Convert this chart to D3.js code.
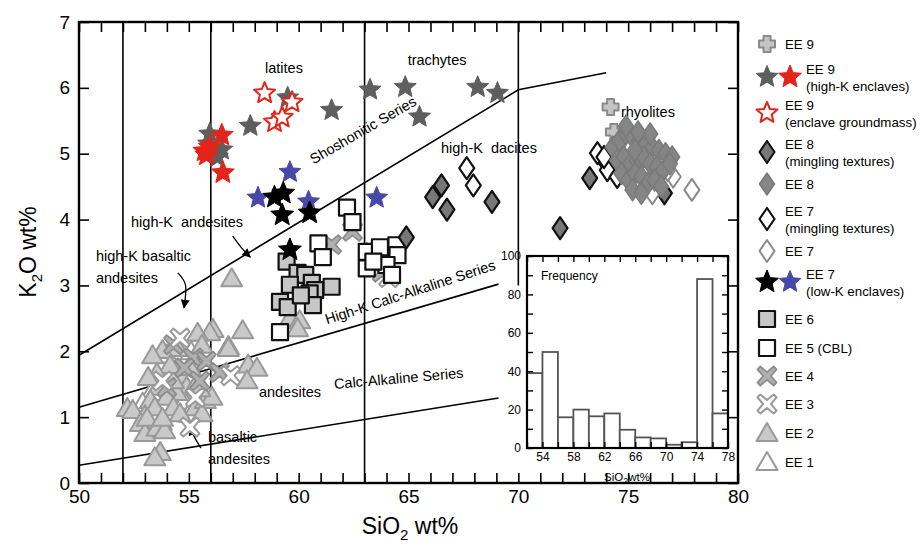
<!DOCTYPE html>
<html><head><meta charset="utf-8">
<script src="https://cdn.jsdelivr.net/npm/d3@7"></script>
<style>body{margin:0;background:#fff}text{font-family:"Liberation Sans",Arial,Helvetica,sans-serif;white-space:pre}</style>
</head><body><svg id="c" width="920" height="547"></svg>
<script>
// ---------- data (SiO2 wt%, K2O wt%) ----------
const ee9Cross = [[74.2,5.71],[74.35,5.33],[74.5,5.13],[75.9,4.98]];
const ee9HighKGray = [[59.5,5.85],[57.8,5.42],[61.5,5.66],[63.25,5.97],[64.85,6.01],[65.5,5.56],[68.15,6.01],[69.05,5.92],[55.95,5.30],[56.5,5.06],[56.3,4.95],[55.9,5.15]];
const ee9HighKRed = [[56.5,5.28],[55.95,5.10],[55.8,4.98],[56.55,4.71],[55.7,5.04]];
const ee9Groundmass = [[58.45,5.92],[59.7,5.78],[58.9,5.48],[59.25,5.55]];
const ee8Mingling = [[66.1,4.34],[66.5,4.52],[66.75,4.15],[68.8,4.27],[71.9,3.87],[73.25,4.63],[76.65,4.40],[64.9,3.73]];
const ee8 = [[74.3,5.10],[74.6,5.20],[74.9,5.30],[75.2,5.25],[75.5,5.20],[75.8,5.15],[76.1,5.10],[76.4,5.05],[76.7,5.00],[77.0,4.95],[74.5,4.90],[74.8,4.95],[75.1,4.85],[75.4,4.90],[75.7,4.95],[76.0,4.85],[76.3,4.80],[76.6,4.75],[76.9,4.85],[74.7,4.70],[75.0,4.60],[75.3,4.70],[75.6,4.65],[75.9,4.55],[76.2,4.60],[76.5,4.50],[75.2,4.45],[75.6,4.40],[74.9,5.42],[75.3,5.05],[76.0,5.30],[75.45,5.33]];
const ee7Mingling = [[67.65,4.78],[67.95,4.52],[73.6,5.01],[74.0,4.86],[74.05,4.75],[74.5,4.65],[73.9,4.95]];
const ee7 = [[76.1,4.40],[77.05,4.65],[77.9,4.45],[76.8,4.75]];
const ee7LowKBlack = [[58.9,4.34],[59.3,4.40],[59.25,4.07],[60.5,4.10],[59.6,3.54]];
const ee7LowKBlue = [[58.15,4.33],[59.6,4.72],[60.45,4.27],[63.55,4.33]];
const ee6 = [[59.45,3.36],[59.95,3.19],[60.3,3.16],[59.6,3.01],[60.6,3.04],[60.75,2.93],[60.5,2.88],[61.5,2.98],[59.15,2.75],[59.5,2.67],[60.65,2.70],[60.1,2.85]];
const ee5 = [[62.2,4.18],[62.45,3.96],[60.9,3.64],[61.1,3.43],[59.15,2.29],[63.1,3.51],[63.7,3.58],[64.45,3.61],[64.5,3.46],[63.1,3.26],[64.0,3.31],[64.25,3.16],[63.4,3.36]];
const ee4 = [[61.5,3.62],[62.45,3.82],[63.4,3.50],[63.8,3.20],[54.3,2.10],[55.2,1.90],[55.8,1.85],[56.4,1.68],[54.8,1.75],[55.5,1.55],[54.0,1.45]];
const ee3 = [[63.6,3.35],[64.1,3.12],[63.3,3.45],[56.9,1.63],[55.05,0.85],[54.6,2.20],[53.8,1.55],[55.3,1.30]];
const ee2 = [[56.95,3.11],[56.1,2.34],[56.8,2.08],[57.7,1.80],[59.6,2.50],[60.05,2.47],[59.95,2.35],[55.95,2.29],[57.45,2.32],[56.8,2.05],[58.1,1.75],[57.65,1.56],[55.4,2.28],[55.6,2.10],[54.5,2.05],[53.8,2.02],[53.35,1.94],[54.6,1.64],[54.9,1.46],[53.6,1.46],[53.25,1.26],[54.45,1.38],[54.0,1.31],[52.2,1.14],[52.45,1.11],[53.0,1.03],[53.45,1.15],[54.3,1.15],[55.3,1.15],[55.75,1.26],[55.3,1.49],[56.05,1.31],[52.8,0.91],[53.0,0.76],[53.55,0.84],[53.1,0.99],[53.9,0.80],[53.7,0.47],[53.45,0.39],[54.3,1.56],[55.05,1.76],[54.15,1.79],[53.55,1.67],[53.15,1.61],[55.5,1.44],[55.6,1.06],[54.6,1.06],[53.8,0.99]];
const ee1 = [[54.2,1.62],[53.3,1.38],[54.8,1.25],[53.75,0.93],[55.1,2.00],[52.9,1.22],[54.0,1.95],[55.0,1.05]];

// classification lines
const shoshoniticLine = [[50,1.94],[70,5.97],[74,6.23]];
const highKLine = [[50,1.15],[69.1,3.02]];
const calcAlkLine = [[50,0.27],[69.1,1.29]];
const dividers = [[52,0,7],[56,0,7],[63,0,7],[70,3.0,7]];

// histogram (inset)
const binStarts = [52,54,56,58,60,62,64,66,68,70,72,74,76];
const frequency = [39,50,16,20,16.5,18,9.5,5.5,5,1.7,3,88,18];
const insetXTicks = [54,58,62,66,70,74,78];
const insetYTicks = [0,20,40,60,80,100];

const xTicks = [50,55,60,65,70,75,80];
const yTicks = [0,1,2,3,4,5,6,7];

// ---------- drawing ----------
const svg = d3.select("#c");
const x = d3.scaleLinear().domain([50,80]).range([79,738]);
const y = d3.scaleLinear().domain([0,7]).range([483,22]);

// dividers
svg.append("g").selectAll("line").data(dividers).join("line")
  .attr("x1",d=>x(d[0])).attr("x2",d=>x(d[0])).attr("y1",d=>y(d[1])).attr("y2",d=>y(d[2]))
  .attr("stroke","#000").attr("stroke-width",1.6);

const line = d3.line().x(d=>x(d[0])).y(d=>y(d[1]));
[shoshoniticLine, highKLine, calcAlkLine].forEach(L=>{
  svg.append("path").attr("d",line(L)).attr("fill","none").attr("stroke","#000").attr("stroke-width",1.6);
});

// axes
const gx = svg.append("g").attr("transform",`translate(0,${y(0)})`)
  .call(d3.axisBottom(x).tickValues(d3.range(50,81,1)).tickSize(-10).tickPadding(7)
    .tickFormat(d=> xTicks.includes(d)? d : ""));
const gxt = svg.append("g").attr("transform",`translate(0,${y(7)})`)
  .call(d3.axisTop(x).tickValues(d3.range(50,81,1)).tickSize(-10).tickFormat(""));
const gy = svg.append("g").attr("transform",`translate(${x(50)},0)`)
  .call(d3.axisLeft(y).tickValues(yTicks).tickSize(-10).tickPadding(9).tickFormat(d3.format("d")));
const gyr = svg.append("g").attr("transform",`translate(${x(80)},0)`)
  .call(d3.axisRight(y).tickValues(yTicks).tickSize(-10).tickFormat(""));
[gx,gxt,gy,gyr].forEach(g=>{
  g.select(".domain").remove();
  g.selectAll(".tick line").attr("stroke","#000").attr("stroke-width",1.6);
  g.selectAll("text").attr("font-size",19).attr("fill","#000").attr("font-family","Liberation Sans, Arial, sans-serif");
});
svg.append("rect").attr("x",x(50)).attr("y",y(7)).attr("width",x(80)-x(50)).attr("height",y(0)-y(7))
  .attr("fill","none").attr("stroke","#000").attr("stroke-width",2.4);

// axis titles
const xt = svg.append("text").attr("x",410).attr("y",534).attr("text-anchor","middle").attr("font-size",23);
xt.append("tspan").text("SiO");
xt.append("tspan").attr("font-size",15).attr("dy",6).text("2");
xt.append("tspan").attr("dy",-6).text(" wt%");
const yt = svg.append("text").attr("transform","translate(36,252) rotate(-90)").attr("text-anchor","middle").attr("font-size",23);
yt.append("tspan").text("K");
yt.append("tspan").attr("font-size",15).attr("dy",6).text("2");
yt.append("tspan").attr("dy",-6).text("O wt%");

// annotations
function label(t, sx, k, anchor, rot){
  const e = svg.append("text").attr("font-size",14.5).attr("text-anchor",anchor||"start").text(t);
  if(rot){ e.attr("transform",`translate(${x(sx)},${y(k)}) rotate(${rot})`).attr("dy","0.35em"); }
  else { e.attr("x",x(sx)).attr("y",y(k)); }
}
label("latites",59.33,6.225,"middle");
label("trachytes",66.3,6.35,"middle");
label("rhyolites",75.9,5.56,"middle");
label("high-K  dacites",66.48,5.01);
label("high-K  andesites",52.37,3.89);
label("high-K basaltic",50.77,3.37);
label("andesites",50.77,3.04);
label("basaltic",55.87,0.62);
label("andesites",55.87,0.29);
label("andesites",58.19,1.31);
label("Calc-Alkaline Series",64.55,1.59,"middle",-5);
label("Shoshonitic Series",62.93,5.36,"middle",-30);
label("High-K Calc-Alkaline Series",65.07,2.9,"middle",-18);

// arrows
svg.append("defs").append("marker").attr("id","ah").attr("viewBox","0 0 10 10").attr("refX",9).attr("refY",5)
  .attr("markerWidth",9).attr("markerHeight",9).attr("orient","auto-start-reverse").attr("markerUnits","userSpaceOnUse")
  .append("path").attr("d","M0,0L10,5L0,10z").attr("fill","#000");
const arrows = [
  [[57.0,3.75],[57.45,3.55],[57.8,3.43]],
  [[54.5,3.19],[54.85,3.0],[54.78,2.66]],
  [[55.55,0.53],[55.25,0.7],[55.05,0.85]]
];
arrows.forEach(a=>{
  svg.append("path").attr("d",d3.line().curve(d3.curveNatural).x(d=>x(d[0])).y(d=>y(d[1]))(a))
    .attr("fill","none").attr("stroke","#000").attr("stroke-width",1.3).attr("marker-end","url(#ah)");
});

// symbol generators
function starPath(R){
  const r=R*0.45, p=[];
  for(let i=0;i<10;i++){const a=-Math.PI/2+i*Math.PI/5, rr=i%2?r:R; p.push([rr*Math.cos(a),rr*Math.sin(a)]);}
  return "M"+p.map(q=>q.join(",")).join("L")+"Z";
}
const diamondPath = "M0,-11L7.5,0L0,11L-7.5,0Z";
const squarePath = "M-8,-8H8V8H-8Z";
const triPath = "M0,-10L10.5,8L-10.5,8Z";
function xPath(){const a=2.8,L=9.5; return `M${-L+a},${-L}L0,${-a*1.4}L${L-a},${-L}L${L},${-L+a}L${a*1.4},0L${L},${L-a}L${L-a},${L}L0,${a*1.4}L${-L+a},${L}L${-L},${L-a}L${-a*1.4},0L${-L},${-L+a}Z`;}
const crossPath = "M-3.5,-8H3.5V-3.5H8V3.5H3.5V8H-3.5V3.5H-8V-3.5H-3.5Z";

const styles = {
  ee1:{d:triPath,fill:"#fff",stroke:"#999",sw:2},
  ee2:{d:triPath,fill:"#c9c9c9",stroke:"#999",sw:2},
  ee3:{d:xPath(),fill:"#fff",stroke:"#9a9a9a",sw:2},
  ee4:{d:xPath(),fill:"#b0b0b0",stroke:"#8c8c8c",sw:1.8},
  ee5:{d:squarePath,fill:"#fff",stroke:"#111",sw:2.2},
  ee6:{d:squarePath,fill:"#c6c6c6",stroke:"#111",sw:2.2},
  lkBlack:{d:starPath(12),fill:"#000",stroke:"#000",sw:1},
  lkBlue:{d:starPath(11.5),fill:"#4848aa",stroke:"#4848aa",sw:1},
  ee7:{d:diamondPath,fill:"#fff",stroke:"#8a8a8a",sw:2},
  ee7m:{d:diamondPath,fill:"#fff",stroke:"#111",sw:2.2},
  ee8m:{d:diamondPath,fill:"#777",stroke:"#111",sw:2.2},
  ee8:{d:diamondPath,fill:"#858585",stroke:"#7a7a7a",sw:1.5},
  hkGray:{d:starPath(11.5),fill:"#5e5e5e",stroke:"#5e5e5e",sw:1},
  hkRed:{d:starPath(12),fill:"#e3241b",stroke:"#e3241b",sw:1},
  gm:{d:starPath(11),fill:"#fff",stroke:"#e3241b",sw:2},
  ee9:{d:crossPath,fill:"#c4c4c4",stroke:"#8a8a8a",sw:2}
};
const layers = [
  [ee1,"ee1"],[ee2,"ee2"],[ee4,"ee4"],[ee3,"ee3"],[ee6,"ee6"],[ee5,"ee5"],
  [ee7LowKBlue,"lkBlue"],[ee7LowKBlack,"lkBlack"],[ee9HighKGray,"hkGray"],[ee9HighKRed,"hkRed"],[ee9Groundmass,"gm"],
  [ee8Mingling,"ee8m"],[ee7Mingling,"ee7m"],[ee9Cross,"ee9"],[ee7,"ee7"],[ee8,"ee8"]
];
layers.forEach(([data,key])=>{
  const s=styles[key];
  svg.append("g").selectAll("path").data(data).join("path")
    .attr("d",s.d).attr("transform",d=>`translate(${x(d[0])},${y(d[1])})`)
    .attr("fill",s.fill).attr("stroke",s.stroke).attr("stroke-width",s.sw).attr("stroke-linejoin","round");
});

// ---------- inset histogram ----------
const ix = d3.scaleLinear().domain([52,78]).range([527,728]);
const iy = d3.scaleLinear().domain([0,100]).range([448,256]);
const ig = svg.append("g");
ig.append("rect").attr("x",ix(52)).attr("y",iy(100)).attr("width",ix(78)-ix(52)).attr("height",iy(0)-iy(100)).attr("fill","#fff");
ig.selectAll("rect.bar").data(binStarts).join("rect").attr("class","bar")
  .attr("x",d=>ix(d)).attr("width",ix(2)-ix(0)).attr("y",(d,i)=>iy(frequency[i])).attr("height",(d,i)=>iy(0)-iy(frequency[i]))
  .attr("fill","#fff").attr("stroke","#555").attr("stroke-width",1.8);
const ia = [
  ig.append("g").attr("transform",`translate(0,${iy(0)})`).call(d3.axisBottom(ix).tickValues(d3.range(52,79,2)).tickSize(-6).tickPadding(4).tickFormat(d=>insetXTicks.includes(d)?d:"")),
  ig.append("g").attr("transform",`translate(0,${iy(100)})`).call(d3.axisTop(ix).tickValues(d3.range(52,79,2)).tickSize(-6).tickFormat("")),
  ig.append("g").attr("transform",`translate(${ix(52)},0)`).call(d3.axisLeft(iy).tickValues(d3.range(0,101,10)).tickSize(-6).tickPadding(6).tickFormat(d=>insetYTicks.includes(d)?d:"")),
  ig.append("g").attr("transform",`translate(${ix(78)},0)`).call(d3.axisRight(iy).tickValues(d3.range(0,101,10)).tickSize(-6).tickFormat(""))
];
ia.forEach(g=>{g.select(".domain").remove(); g.selectAll(".tick line").attr("stroke","#000").attr("stroke-width",1.4);
  g.selectAll("text").attr("font-size",12).attr("fill","#000").attr("font-family","Liberation Sans, Arial, sans-serif");});
ig.append("rect").attr("x",ix(52)).attr("y",iy(100)).attr("width",ix(78)-ix(52)).attr("height",iy(0)-iy(100))
  .attr("fill","none").attr("stroke","#000").attr("stroke-width",2.2);
ig.append("text").attr("x",541).attr("y",280).attr("font-size",12).text("Frequency");
const ixt = ig.append("text").attr("x",627).attr("y",481).attr("text-anchor","middle").attr("font-size",11.5);
ixt.append("tspan").text("SiO"); ixt.append("tspan").attr("font-size",9).attr("dy",3).text("2"); ixt.append("tspan").attr("dy",-3).text("wt%");

// ---------- legend ----------
const legendItems = [
  {sym:["ee9"], lines:["EE 9"], y:44},
  {sym:["hkGray","hkRed"], lines:["EE 9","(high-K enclaves)"], y:77},
  {sym:["gm"], lines:["EE 9","(enclave groundmass)"], y:113},
  {sym:["ee8m"], lines:["EE 8","(mingling textures)"], y:152},
  {sym:["ee8"], lines:["EE 8"], y:184},
  {sym:["ee7m"], lines:["EE 7","(mingling textures)"], y:219},
  {sym:["ee7"], lines:["EE 7"], y:251},
  {sym:["lkBlack","lkBlue"], lines:["EE 7","(low-K enclaves)"], y:282},
  {sym:["ee6"], lines:["EE 6"], y:319},
  {sym:["ee5"], lines:["EE 5 (CBL)"], y:348},
  {sym:["ee4"], lines:["EE 4"], y:376},
  {sym:["ee3"], lines:["EE 3"], y:404},
  {sym:["ee2"], lines:["EE 2"], y:433},
  {sym:["ee1"], lines:["EE 1"], y:462}
];
const lg = svg.append("g");
legendItems.forEach(it=>{
  it.sym.forEach((k,j)=>{
    const s=styles[k];
    lg.append("path").attr("d",s.d).attr("transform",`translate(${767+j*23},${it.y})`)
      .attr("fill",s.fill).attr("stroke",s.stroke).attr("stroke-width",s.sw).attr("stroke-linejoin","round");
  });
  const tx = it.sym.length>1 ? 806 : 785;
  if(it.lines.length===1){
    lg.append("text").attr("x",tx).attr("y",it.y+5).attr("font-size",13.3).text(it.lines[0]);
  } else {
    lg.append("text").attr("x",tx).attr("y",it.y-3).attr("font-size",13.3).text(it.lines[0]);
    lg.append("text").attr("x",tx).attr("y",it.y+14).attr("font-size",13.3).text(it.lines[1]);
  }
});
</script></body></html>
